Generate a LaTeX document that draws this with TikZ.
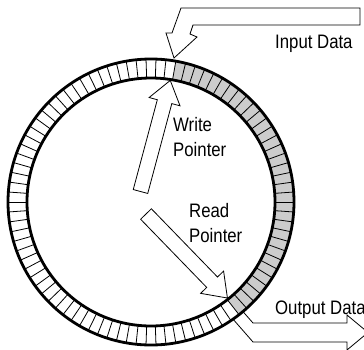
\documentclass[tikz,border=0pt]{standalone}
\usepackage{fontspec}
\setmainfont{Liberation Sans}[FakeStretch=0.86]
\usetikzlibrary{calc}

% fat pointer: tail point, angle, length
\newcommand{\fatptr}[3]{%
  \draw[ptr, shift={#1}, rotate=#2] (0,-7.5) -- ({#3-22},-7.5) -- ({#3-22},-16) -- (#3,0)
    -- ({#3-22},16) -- ({#3-22},7.5) -- (0,7.5) -- cycle;}

\begin{document}
\begin{tikzpicture}[x=1pt, y=1pt,
    ring/.style={line width=2.8pt},
    cell/.style={line width=0.8pt},
    ptr/.style={draw=black, fill=white, line width=0.8pt, line join=miter},
    lbl/.style={font=\fontsize{19.5}{24.5}\selectfont, inner sep=0pt, align=left, anchor=base west}]

        \clip (-151,-147) rectangle (213,202);

        % Input data arrow (top)
        \draw[ptr] (209,194) -- (30,194) -- (21,169) -- (15,169) -- (23,144) -- (46,165)
            -- (39,168) -- (42,177) -- (209,177) -- cycle;

        % Output data arrow (bottom right)
        \draw[ptr] (-50:143) -- (102,-121) -- (196,-121) -- (196,-113) -- (217,-130.5)
            -- (196,-148) -- (196,-140) -- (102,-140) -- (-55:143);

        % Write and read pointers
        \fatptr{(-10.5,10.5)}{75}{115}
        \fatptr{(-5,-12)}{-45.9}{117}

        % Buffer ring
        \fill[gray!40] (80:143) arc[start angle=80, end angle=-52, radius=143]
            -- (-52:124) arc[start angle=-52, end angle=80, radius=124] -- cycle;
        \foreach \a in {0,4,...,356}
            \draw[cell] (\a:124) -- (\a:143);
        \draw[ring] (0,0) circle[radius=143];
        \draw[ring] (0,0) circle[radius=124];

        % Labels
        \node[lbl] (inData) at (124,154) {Input Data};
        \node[lbl] (wrLbl) at (22,46) {Write\\Pointer};
        \node[lbl] (rdLbl) at (38,-40) {Read\\Pointer};
        \node[lbl] (outData) at (124,-112) {Output Data};

    \end{tikzpicture}
\end{document}
